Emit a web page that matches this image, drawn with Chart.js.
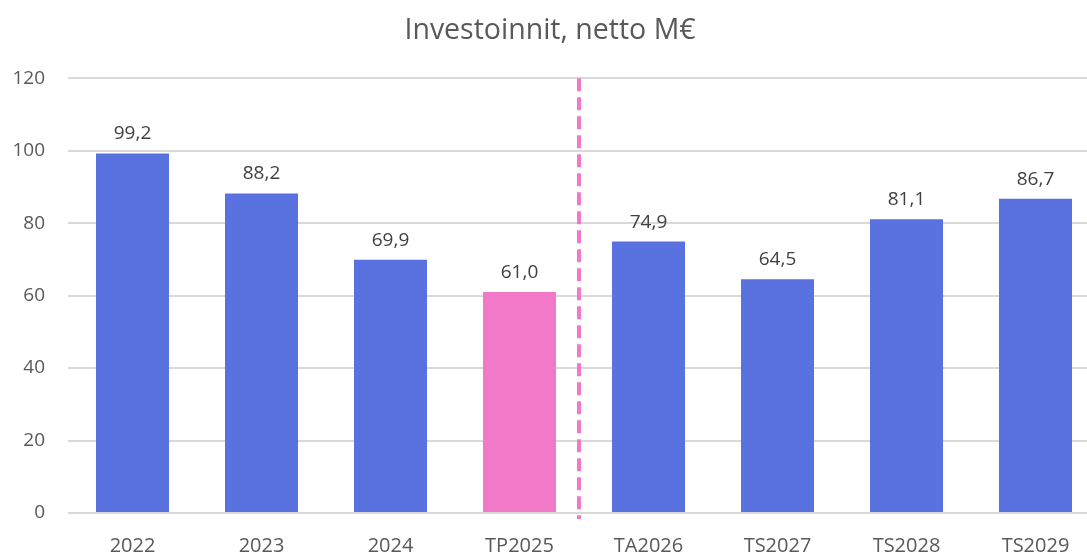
<!DOCTYPE html>
<html>
<head>
<meta charset="utf-8">
<script src="https://cdn.jsdelivr.net/npm/chart.js@4/dist/chart.umd.min.js"></script>
<style>
  html, body { margin: 0; padding: 0; background: #fff; overflow: hidden; }
  #wrap { width: 1100px; height: 554px; }
</style>
</head>
<body>
<div id="wrap"><canvas id="chart"></canvas></div>
<script>
const categories = ['2022', '2023', '2024', 'TP2025', 'TA2026', 'TS2027', 'TS2028', 'TS2029'];
const values = [99.2, 88.2, 69.9, 61.0, 74.9, 64.5, 81.1, 86.7];
const barColors = ['#5A72E0', '#5A72E0', '#5A72E0', '#F279C8', '#5A72E0', '#5A72E0', '#5A72E0', '#5A72E0'];
const yTicks = [0, 20, 40, 60, 80, 100, 120];

const fontFamily = "'Open Sans', 'Noto Sans', sans-serif";
const textColor = '#595959';

// value labels above the bars, finnish decimal comma
const valueLabels = {
  id: 'valueLabels',
  afterDatasetsDraw(chart) {
    const { ctx } = chart;
    const meta = chart.getDatasetMeta(0);
    ctx.save();
    ctx.font = `19px ${fontFamily}`;
    ctx.fillStyle = '#404040';
    ctx.textAlign = 'center';
    ctx.textBaseline = 'bottom';
    meta.data.forEach((bar, i) => {
      ctx.fillText(values[i].toFixed(1).replace('.', ','), bar.x, bar.y - 10);
    });
    ctx.restore();
  }
};

// dashed divider between actuals and forecast
const divider = {
  id: 'divider',
  afterDatasetsDraw(chart) {
    const { ctx, chartArea, scales } = chart;
    const x = (scales.x.getPixelForValue(3) + scales.x.getPixelForValue(4)) / 2 - 5;
    ctx.save();
    ctx.strokeStyle = '#F279C8';
    ctx.lineWidth = 4;
    ctx.setLineDash([13, 6]);
    ctx.beginPath();
    ctx.moveTo(x, chartArea.top);
    ctx.lineTo(x, chartArea.bottom + 6);
    ctx.stroke();
    ctx.restore();
  }
};

const ctx = document.getElementById('chart').getContext('2d');
new Chart(ctx, {
  type: 'bar',
  data: {
    labels: categories,
    datasets: [{
      data: values,
      backgroundColor: barColors,
      barPercentage: 0.566,
      categoryPercentage: 1
    }]
  },
  options: {
    responsive: true,
    maintainAspectRatio: false,
    animation: false,
    layout: { padding: 0 },
    plugins: {
      legend: { display: false },
      tooltip: { enabled: false },
      title: {
        display: true,
        text: 'Investoinnit, netto M€',
        color: textColor,
        font: { family: fontFamily, size: 28.5, weight: 'normal' },
        padding: { top: 14, bottom: 30 }
      }
    },
    scales: {
      x: {
        afterFit(axis) { axis.height = 41; },
        grid: { display: false },
        border: { display: false },
        ticks: {
          color: textColor,
          font: { family: fontFamily, size: 20 },
          padding: 13,
          maxRotation: 0
        }
      },
      y: {
        min: 0,
        max: 120,
        afterBuildTicks(axis) { axis.ticks = yTicks.map(v => ({ value: v })); },
        afterFit(axis) { axis.width = 68; },
        grid: { color: '#D9D9D9', lineWidth: 2, drawTicks: false },
        border: { display: false },
        ticks: {
          color: textColor,
          font: { family: fontFamily, size: 19 },
          padding: 23
        }
      }
    }
  },
  plugins: [valueLabels, divider]
});
</script>
</body>
</html>
